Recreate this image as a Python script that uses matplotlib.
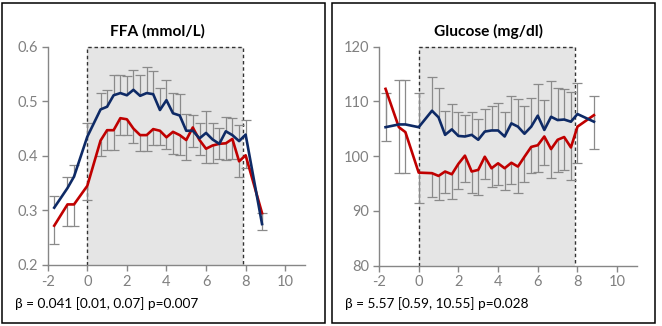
import matplotlib
matplotlib.use("Agg")
import matplotlib.pyplot as plt
from matplotlib.patches import Rectangle
import numpy as np

plt.rcParams['font.family'] = ['Lato', 'DejaVu Sans']
plt.rcParams['axes.unicode_minus'] = False

# ---- data ----
time_h = [-1.67, -1.0, -0.67, 0, 0.67, 1.0, 1.33, 1.67, 2.0, 2.33, 2.67, 3.0, 3.33, 3.67,
          4.0, 4.33, 4.67, 5.0, 5.33, 5.67, 6.0, 6.33, 6.67, 7.0, 7.33, 7.67, 8.0, 8.83]

ffa_blue = [0.305, 0.341, 0.362, 0.435, 0.485, 0.490, 0.511, 0.515, 0.511, 0.521, 0.510, 0.515,
            0.513, 0.484, 0.502, 0.478, 0.474, 0.446, 0.446, 0.432, 0.442, 0.430, 0.422, 0.445,
            0.438, 0.427, 0.439, 0.275]
ffa_blue_err = [0.022, 0.021, 0.021, 0.026, 0.031, 0.031, 0.037, 0.034, 0.035, 0.037, 0.038, 0.047,
                0.042, 0.040, 0.037, 0.037, 0.039, 0.031, 0.029, 0.029, 0.040, 0.031, 0.029, 0.027,
                0.032, 0.029, 0.027, 0.020]
ffa_red = [0.272, 0.311, 0.311, 0.345, 0.428, 0.447, 0.447, 0.469, 0.467, 0.450, 0.438, 0.438,
           0.449, 0.446, 0.434, 0.444, 0.438, 0.429, 0.452, 0.429, 0.413, 0.419, 0.422, 0.423,
           0.431, 0.390, 0.401, 0.295]
ffa_red_err = [0.034, 0.040, 0.040, 0.026, 0.029, 0.036, 0.036, 0.031, 0.029, 0.027, 0.030, 0.029,
               0.030, 0.027, 0.021, 0.041, 0.036, 0.037, 0.035, 0.027, 0.027, 0.033, 0.028, 0.031,
               0.037, 0.028, 0.024, 0.030]

glu_blue = [105.3, 105.8, 105.8, 105.3, 108.3, 107.1, 103.9, 104.9, 103.7, 103.6, 103.9, 103.0,
            104.5, 104.7, 104.7, 103.6, 106.0, 105.4, 104.1, 105.4, 107.4, 104.8, 107.2, 106.6,
            106.7, 106.3, 107.7, 106.3]
glu_blue_err = [6.2, 8.1, 8.1, 6.2, 6.2, 5.3, 4.3, 4.6, 4.4, 4.0, 4.2, 3.8, 4.2, 4.5, 5.0, 4.5,
                5.0, 5.0, 5.1, 5.3, 5.7, 5.5, 6.5, 5.8, 5.5, 5.4, 5.6, 4.7]
glu_red = [112.3, 105.3, 104.4, 97.0, 96.9, 96.4, 97.2, 96.7, 98.6, 100.1, 97.2, 97.5, 99.9, 97.8,
           98.7, 97.8, 98.8, 98.1, 99.9, 101.7, 102.0, 103.6, 101.3, 103.0, 103.5, 101.6, 105.4, 107.5]
glu_red_err = [9.5, 8.3, 7.5, 5.5, 4.3, 4.4, 4.0, 4.6, 4.5, 4.9, 3.9, 4.6, 4.1, 3.4, 4.0, 4.0,
               3.8, 4.9, 4.6, 4.8, 4.8, 5.2, 5.3, 5.8, 6.1, 6.0, 6.6, 6.1]

x_ticks = [-2, 0, 2, 4, 6, 8, 10]
ffa_yticks = [0.2, 0.3, 0.4, 0.5, 0.6]
glu_yticks = [80, 90, 100, 110, 120]
shade_start, shade_end = 0, 7.87

titles = ["FFA (mmol/L)", "Glucose (mg/dl)"]
footers = ["β = 0.041 [0.01, 0.07] p=0.007", "β = 5.57 [0.59, 10.55] p=0.028"]

# ---- style ----
BLUE = "#0e2a66"
RED = "#c00000"
GRAY_ERR = "#8a8a8a"
AX_GRAY = "#868686"
TICK_TXT = "#808080"
SHADE = "#e5e5e5"

fig = plt.figure(figsize=(6.62, 3.26), dpi=100)

ax_specs = [
    ([47.7 / 662, 61 / 326, 257.3 / 662, 218.3 / 326], ffa_blue, ffa_blue_err, ffa_red, ffa_red_err,
     ffa_yticks, "{:.1f}"),
    ([379 / 662, 60.3 / 326, 258 / 662, 219 / 326], glu_blue, glu_blue_err, glu_red, glu_red_err,
     glu_yticks, "{:.0f}"),
]

t = np.array(time_h)
for i, (rect, b, be, r, re_, yt, fmt) in enumerate(ax_specs):
    ax = fig.add_axes(rect)
    b = np.array(b); be = np.array(be); r = np.array(r); re_ = np.array(re_)
    y0, y1 = yt[0], yt[-1]
    ax.set_xlim(-2, 11)
    ax.set_ylim(y0, y1)
    # shaded dashed region
    ax.add_patch(Rectangle((shade_start, y0), shade_end - shade_start, y1 - y0,
                           facecolor=SHADE, edgecolor="none", zorder=0))
    ax.plot([shade_start, shade_start, shade_end, shade_end], [y0, y1, y1, y0],
            color="#333333", lw=1.0, ls=(0, (2.5, 2)), zorder=1, clip_on=False)
    # error bars: blue upward, red downward
    ax.vlines(t, b, b + be, color=GRAY_ERR, lw=0.9, zorder=2)
    ax.plot(t, b + be, ls="none", marker="_", ms=7, mew=0.9, color=GRAY_ERR, zorder=2)
    ax.vlines(t, r - re_, r, color=GRAY_ERR, lw=0.9, zorder=2)
    ax.plot(t, r - re_, ls="none", marker="_", ms=7, mew=0.9, color=GRAY_ERR, zorder=2)
    # lines
    ax.plot(t, r, color=RED, lw=1.9, zorder=3, solid_joinstyle="round")
    ax.plot(t, b, color=BLUE, lw=1.9, zorder=4, solid_joinstyle="round")

    ax.set_xticks(x_ticks)
    ax.set_yticks(yt)
    ax.set_yticklabels([fmt.format(v) for v in yt])
    for s in ["top", "right"]:
        ax.spines[s].set_visible(False)
    for s in ["left", "bottom"]:
        ax.spines[s].set_color(AX_GRAY)
        ax.spines[s].set_linewidth(1.0)
    ax.tick_params(direction="out", length=4, width=1.0, color=AX_GRAY,
                   labelcolor=TICK_TXT, labelsize=10.5, pad=3)
    ax.patch.set_alpha(0)

# titles, footers, boxes
title_x = [157.5 / 662, 489 / 662]
foot_x = [15 / 662, 345 / 662]
box_x = [1.7 / 662, 331.7 / 662]
for i in range(2):
    fig.text(title_x[i], 1 - 31.7 / 326, titles[i], ha="center", va="center",
             fontsize=11.2, fontweight="bold", color="black")
    fig.text(foot_x[i], 1 - 304 / 326, footers[i], ha="left", va="center",
             fontsize=9.8, color="black")
    fig.add_artist(Rectangle((box_x[i], 3 / 326), 323.5 / 662, 320 / 326,
                             transform=fig.transFigure, fill=False,
                             edgecolor="black", lw=1.1))

fig.savefig("out.png", dpi=100)
